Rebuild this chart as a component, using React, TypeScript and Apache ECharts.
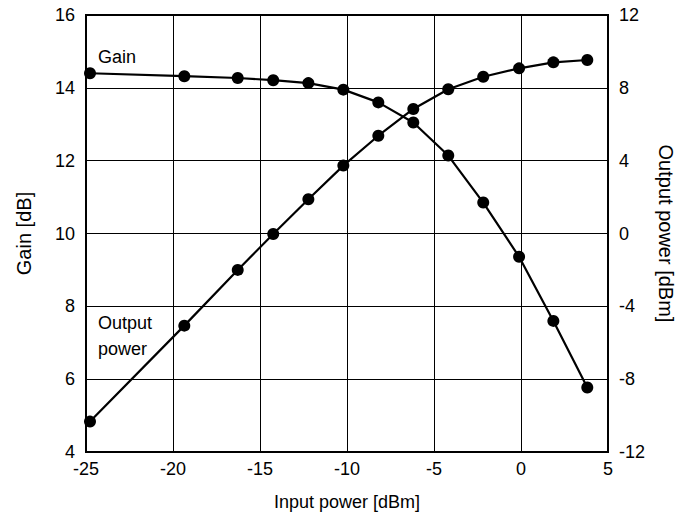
import React, { useEffect, useRef } from "react";
import * as echarts from "echarts";

const inputPower = [-24.77, -19.35, -16.28, -14.24, -12.22, -10.21, -8.2, -6.19, -4.18, -2.17, -0.11, 1.86, 3.81];
const gainDb = [14.4, 14.32, 14.27, 14.21, 14.13, 13.95, 13.6, 13.05, 12.14, 10.85, 9.36, 7.6, 5.77];
const outputDbm = [-10.33, -5.06, -2.0, -0.03, 1.88, 3.73, 5.37, 6.84, 7.92, 8.61, 9.07, 9.4, 9.53];

const FONT = "Liberation Sans, Arial, sans-serif";
const FS = 18;
const FS_NAME_V = 20;

export default function App() {
  const ref = useRef<HTMLDivElement>(null);
  useEffect(() => {
    document.body.style.margin = "0";
    const chart = echarts.init(ref.current!, null, { renderer: "svg" });
    const lineStyle = { color: "#000", width: 2.2 };
    const itemStyle = { color: "#000" };
    const axisLine = { show: true, onZero: false, lineStyle: { color: "#000", width: 2 } };
    chart.setOption({
      animation: false,
      backgroundColor: "#fff",
      textStyle: { fontFamily: FONT, color: "#000" },
      grid: {
        left: 86,
        right: 77,
        top: 15,
        bottom: 64,
        show: true,
        borderColor: "#000",
        borderWidth: 2,
        containLabel: false,
      },
      xAxis: {
        type: "value",
        min: -25,
        max: 5,
        interval: 5,
        name: "Input power [dBm]",
        nameLocation: "middle",
        nameGap: 41,
        nameTextStyle: { fontFamily: FONT, fontSize: FS, color: "#000" },
        axisLine,
        axisTick: { show: false },
        axisLabel: { fontFamily: FONT, fontSize: FS, color: "#000", margin: 8 },
        splitLine: { show: true, lineStyle: { color: "#000", width: 1 } },
      },
      yAxis: [
        {
          type: "value",
          min: 4,
          max: 16,
          interval: 2,
          name: "Gain [dB]",
          nameLocation: "middle",
          nameGap: 52,
          nameRotate: 90,
          nameTextStyle: { fontFamily: FONT, fontSize: FS_NAME_V, color: "#000" },
          axisLine,
          axisTick: { show: false },
          axisLabel: { fontFamily: FONT, fontSize: FS, color: "#000", margin: 11 },
          splitLine: { show: true, lineStyle: { color: "#000", width: 1 } },
        },
        {
          type: "value",
          min: -12,
          max: 12,
          interval: 4,
          position: "right",
          name: "Output power [dBm]",
          nameLocation: "middle",
          nameGap: 41,
          nameRotate: -90,
          nameTextStyle: { fontFamily: FONT, fontSize: FS_NAME_V, color: "#000" },
          axisLine,
          axisTick: { show: false },
          axisLabel: { fontFamily: FONT, fontSize: FS, color: "#000", margin: 11 },
          splitLine: { show: false },
        },
      ],
      series: [
        {
          name: "Gain",
          type: "line",
          yAxisIndex: 0,
          data: inputPower.map((x, i) => [x, gainDb[i]]),
          symbol: "circle",
          symbolSize: 12,
          lineStyle,
          itemStyle,
        },
        {
          name: "Output power",
          type: "line",
          yAxisIndex: 1,
          data: inputPower.map((x, i) => [x, outputDbm[i]]),
          symbol: "circle",
          symbolSize: 12,
          lineStyle,
          itemStyle,
        },
      ],
      graphic: [
        {
          type: "text",
          left: 98,
          top: 48,
          style: { text: "Gain", font: `${FS}px ${FONT}`, fill: "#000" },
        },
        {
          type: "text",
          left: 98,
          top: 310,
          style: { text: "Output\npower", font: `${FS}px ${FONT}`, fill: "#000", lineHeight: 26 },
        },
      ],
    });
    return () => chart.dispose();
  }, []);
  return (
    <div
      ref={ref}
      style={{ position: "fixed", left: 0, top: 0, width: 685, height: 516 }}
    />
  );
}
